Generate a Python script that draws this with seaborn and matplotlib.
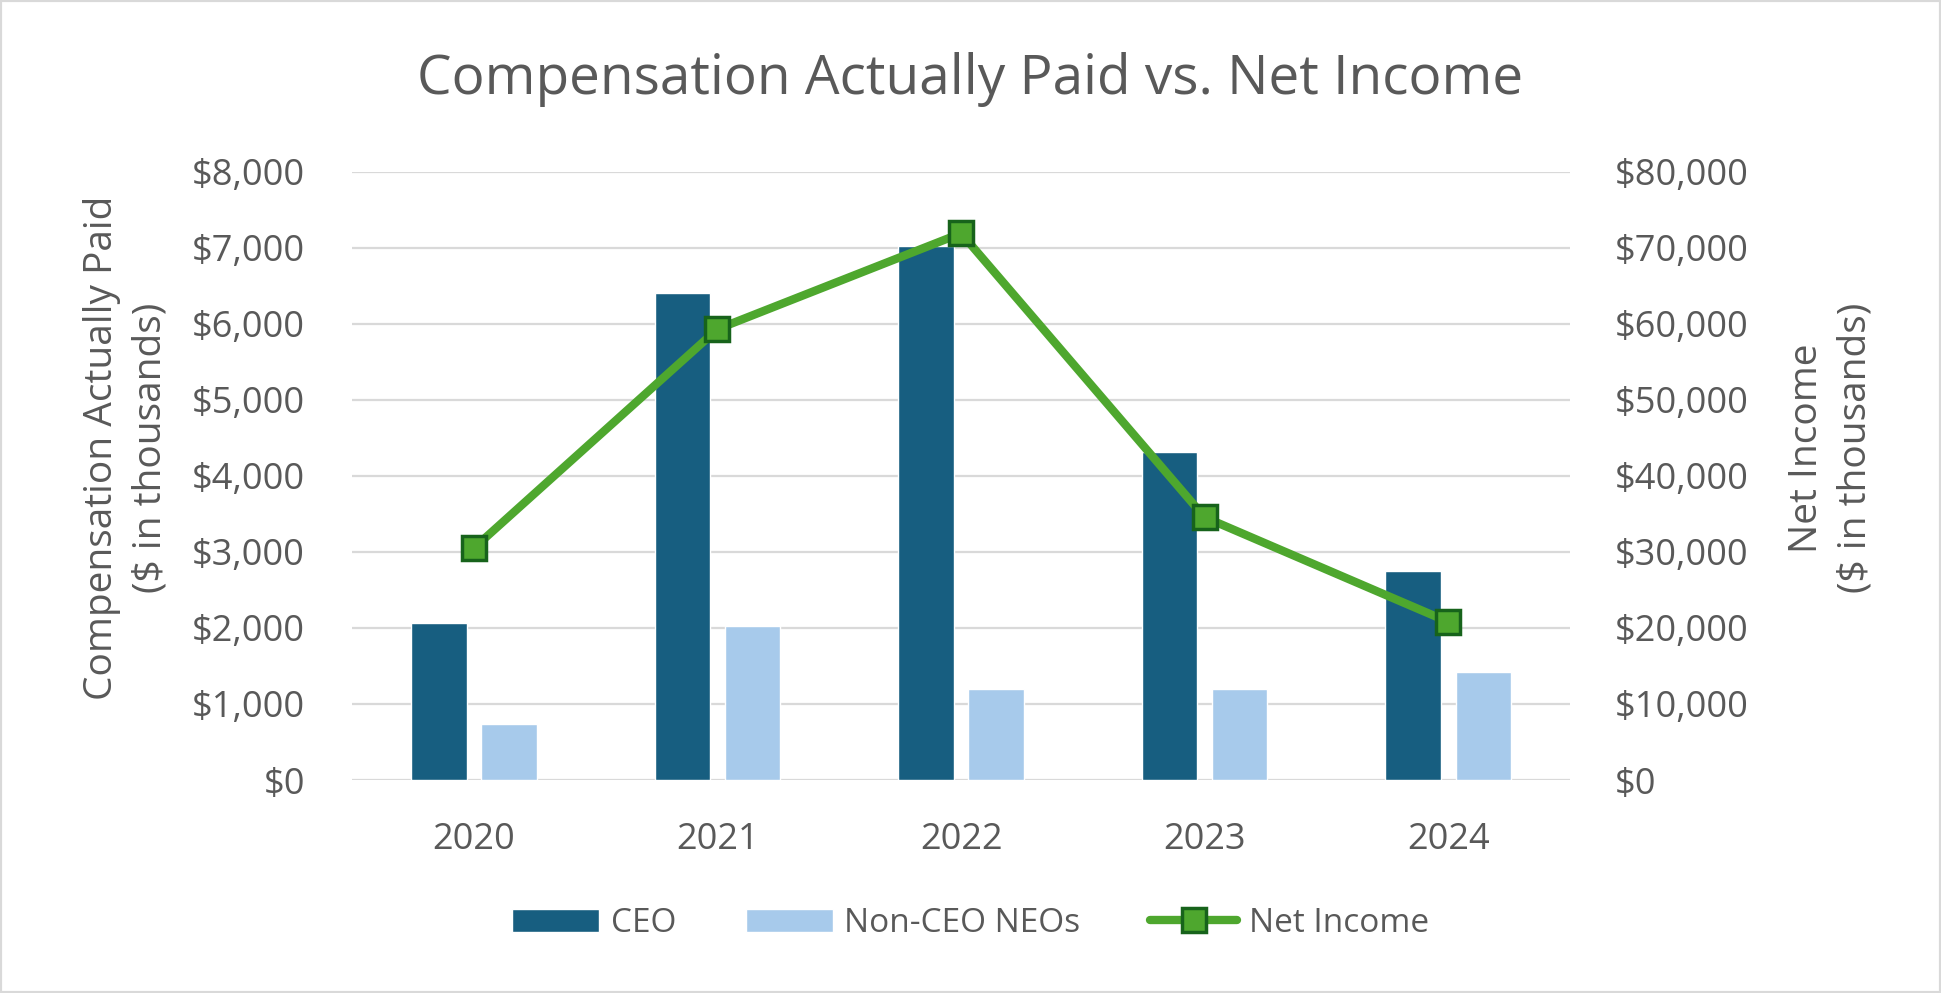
import pandas as pd
import matplotlib.pyplot as plt
import seaborn as sns
from matplotlib.patches import Patch, Rectangle
from matplotlib.lines import Line2D
from matplotlib.ticker import FuncFormatter

# values ($ in thousands)
years = ['2020', '2021', '2022', '2023', '2024']
ceo_cap = [2065, 6400, 7020, 4310, 2750]
neo_cap = [740, 2030, 1200, 1200, 1420]
net_income = [30500, 59300, 71900, 34550, 20800]

group_labels = ['CEO', 'Non-CEO NEOs']
bar_colors = ['#175E80', '#A7CAEB']
line_color = '#4EA72E'
marker_edge = '#17631B'
text_color = '#595959'
grid_color = '#D9D9D9'

sns.set_style('white')
plt.rcParams['font.family'] = ['Open Sans', 'DejaVu Sans']

# long form table for the bars
df_bars = pd.DataFrame({
    'Year': years * 2,
    'Value': ceo_cap + neo_cap,
    'Group': [group_labels[0]] * len(years) + [group_labels[1]] * len(years),
})
df_ni = pd.DataFrame({'Year': years, 'Net Income': net_income})

fig = plt.figure(figsize=(19.41, 9.93), dpi=100)
ax = fig.add_axes([0.1814, 0.2145, 0.6275, 0.6126])

sns.barplot(data=df_bars, x='Year', y='Value', hue='Group', palette=bar_colors,
            width=0.576, gap=0.21, saturation=1, errorbar=None, legend=False, ax=ax)

ax.set_ylim(0, 8000)
ax.set_yticks(range(0, 8001, 1000))
ax.yaxis.set_major_formatter(FuncFormatter(lambda v, p: f'${v:,.0f}'))
ax.grid(axis='y', color=grid_color, linewidth=1.6)
ax.set_axisbelow(True)
for s in ax.spines.values():
    s.set_visible(False)
ax.tick_params(axis='both', length=0, labelsize=26, colors=text_color)
ax.tick_params(axis='y', pad=34)
ax.tick_params(axis='x', pad=30)
ax.set_xlabel('')
ax.set_ylabel('Compensation Actually Paid\n($ in thousands)', fontsize=28,
              color=text_color, linespacing=1.35)
ax.yaxis.set_label_coords(-0.150, 0.546)

# net income on the secondary axis
ax2 = ax.twinx()
sns.pointplot(data=df_ni, x='Year', y='Net Income', color=line_color, markers='s',
              errorbar=None, ax=ax2, linewidth=6, markersize=17,
              markeredgecolor=marker_edge, markeredgewidth=2.5)
ax2.set_ylim(0, 80000)
ax2.set_yticks(range(0, 80001, 10000))
ax2.yaxis.set_major_formatter(FuncFormatter(lambda v, p: f'${v:,.0f}'))
ax2.grid(False)
for s in ax2.spines.values():
    s.set_visible(False)
ax2.tick_params(axis='y', length=0, labelsize=26, colors=text_color, pad=32)
ax2.set_xlabel('')
ax2.set_ylabel('Net Income\n($ in thousands)', fontsize=28, color=text_color,
               linespacing=1.35, rotation=90)
ax2.yaxis.set_label_coords(1.179, 0.546)
ax.set_xlim(-0.5, len(years) - 0.5)

fig.suptitle('Compensation Actually Paid vs. Net Income', fontsize=39.5,
             color=text_color, y=0.92, va='center')

handles = [
    Patch(facecolor=bar_colors[0], label=group_labels[0]),
    Patch(facecolor=bar_colors[1], label=group_labels[1]),
    Line2D([0], [0], color=line_color, linewidth=6, marker='s', markersize=17,
           markeredgecolor=marker_edge, markeredgewidth=2.5, label='Net Income'),
]
fig.legend(handles=handles, loc='center', bbox_to_anchor=(0.5, 0.07), ncol=3,
           frameon=False, fontsize=24, labelcolor=text_color, handlelength=2.6,
           handleheight=0.7, handletextpad=0.35, columnspacing=2.1)

# light frame around the whole chart
fig.patches.append(Rectangle((0, 0), 1, 1, transform=fig.transFigure, fill=False,
                             edgecolor=grid_color, linewidth=3))

fig.savefig('out.png', dpi=100)
